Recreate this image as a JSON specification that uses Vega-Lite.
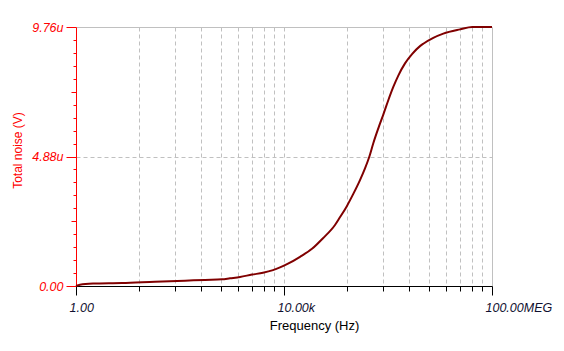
{
  "$schema": "https://vega.github.io/schema/vega-lite/v6.json",
  "width": 416,
  "height": 259,
  "autosize": {"type": "none"},
  "padding": {"left": 76, "top": 27, "right": 72, "bottom": 65},
  "background": "white",
  "config": {
    "view": {"stroke": null},
    "font": "Liberation Sans"
  },
  "data": {
    "values": [
      {"freq": 1, "noise": 0.0},
      {"freq": 1.19, "noise": 0.05},
      {"freq": 2.12, "noise": 0.09},
      {"freq": 7.67, "noise": 0.11},
      {"freq": 33.1, "noise": 0.16},
      {"freq": 124.7, "noise": 0.2},
      {"freq": 302.7, "noise": 0.23},
      {"freq": 642, "noise": 0.25},
      {"freq": 915, "noise": 0.29},
      {"freq": 1426, "noise": 0.34},
      {"freq": 2426, "noise": 0.43},
      {"freq": 3944, "noise": 0.5},
      {"freq": 6143, "noise": 0.6},
      {"freq": 8375, "noise": 0.7},
      {"freq": 11940, "noise": 0.84},
      {"freq": 20320, "noise": 1.1},
      {"freq": 34560, "noise": 1.4},
      {"freq": 56230, "noise": 1.8},
      {"freq": 95680, "noise": 2.3},
      {"freq": 115700, "noise": 2.55},
      {"freq": 160600, "noise": 3.0},
      {"freq": 215100, "noise": 3.47},
      {"freq": 289400, "noise": 3.99},
      {"freq": 361200, "noise": 4.43},
      {"freq": 436900, "noise": 4.87},
      {"freq": 521600, "noise": 5.38},
      {"freq": 651000, "noise": 5.94},
      {"freq": 812200, "noise": 6.46},
      {"freq": 1013400, "noise": 7.0},
      {"freq": 1264500, "noise": 7.5},
      {"freq": 1578000, "noise": 7.93},
      {"freq": 2123000, "noise": 8.39},
      {"freq": 2900000, "noise": 8.74},
      {"freq": 4125000, "noise": 9.04},
      {"freq": 4773000, "noise": 9.13},
      {"freq": 7432000, "noise": 9.35},
      {"freq": 11572000, "noise": 9.51},
      {"freq": 24246000, "noise": 9.67},
      {"freq": 41800000, "noise": 9.76},
      {"freq": 100000000, "noise": 9.76}
    ]
  },
  "mark": {"type": "line", "color": "#800000", "strokeWidth": 2, "clip": false, "interpolate": "monotone"},
  "encoding": {
    "x": {
      "field": "freq",
      "type": "quantitative",
      "scale": {"type": "log", "domain": [1, 100000000], "nice": false},
      "axis": {
        "title": "Frequency (Hz)",
        "titleFont": "Liberation Sans",
        "titleFontSize": 13,
        "titleFontWeight": "normal",
        "titleColor": "black",
        "titleX": 238,
        "titleY": 43,
        "titleAlign": "center",
        "titleBaseline": "alphabetic",
        "values": [1, 16, 81, 256, 625, 1296, 2401, 4096, 6561, 10000, 160000, 810000, 2560000, 6250000, 12960000, 24010000, 40960000, 65610000, 100000000],
        "labelExpr": "datum.value == 1 ? '1.00' : datum.value == 10000 ? '10.00k' : datum.value == 100000000 ? '100.00MEG' : ''",
        "labelOverlap": false,
        "labelFont": "Liberation Sans",
        "labelFontSize": 12.5,
        "labelFontStyle": "italic",
        "labelColor": "#101030",
        "labelAlign": "left",
        "labelOffset": -7,
        "labelPadding": 6,
        "labelFlush": false,
        "labelBound": false,
        "domainColor": "black",
        "domainWidth": 1,
        "tickColor": "black",
        "tickWidth": 1,
        "tickSize": {"condition": {"test": "datum.value == 1 || datum.value == 10000 || datum.value == 100000000", "value": 9}, "value": 5},
        "grid": true,
        "gridColor": "#c0c0c0",
        "gridWidth": 1,
        "gridDash": {"condition": {"test": "datum.value == 100000000", "value": []}, "value": [4, 3]},
        "gridOpacity": {"condition": {"test": "datum.value == 1", "value": 0}, "value": 1}
      }
    },
    "y": {
      "field": "noise",
      "type": "quantitative",
      "scale": {"domain": [0, 9.76], "nice": false, "zero": true},
      "axis": {
        "title": "Total noise (V)",
        "titleFont": "Liberation Sans",
        "titleFontSize": 12,
        "titleFontWeight": "normal",
        "titleColor": "#ff0000",
        "titleAngle": -90,
        "titleX": -55,
        "titleY": 123,
        "titleAlign": "center",
        "titleBaseline": "alphabetic",
        "values": [0, 0.488, 0.976, 1.464, 1.952, 2.44, 2.928, 3.416, 3.904, 4.392, 4.88, 5.368, 5.856, 6.344, 6.832, 7.32, 7.808, 8.296, 8.784, 9.272, 9.76],
        "labelExpr": "datum.value == 0 ? '0.00' : datum.value == 4.88 ? '4.88u' : datum.value == 9.76 ? '9.76u' : ''",
        "labelOverlap": false,
        "labelFont": "Liberation Sans",
        "labelFontSize": 12.5,
        "labelFontStyle": "italic",
        "labelColor": "#ff0000",
        "labelPadding": 3,
        "labelFlush": false,
        "labelBound": false,
        "domainColor": "#ff0000",
        "domainWidth": 1,
        "tickColor": "#ff0000",
        "tickWidth": 1,
        "tickSize": {"condition": [
          {"test": "datum.value == 0 || datum.value == 4.88 || datum.value == 9.76", "value": 10},
          {"test": "datum.value == 2.44 || datum.value == 7.32", "value": 5}
        ], "value": 3},
        "grid": true,
        "gridColor": "#c0c0c0",
        "gridWidth": 1,
        "gridDash": {"condition": {"test": "datum.value == 9.76", "value": []}, "value": [4, 3]},
        "gridOpacity": {"condition": {"test": "datum.value == 4.88 || datum.value == 9.76", "value": 1}, "value": 0}
      }
    }
  }
}
